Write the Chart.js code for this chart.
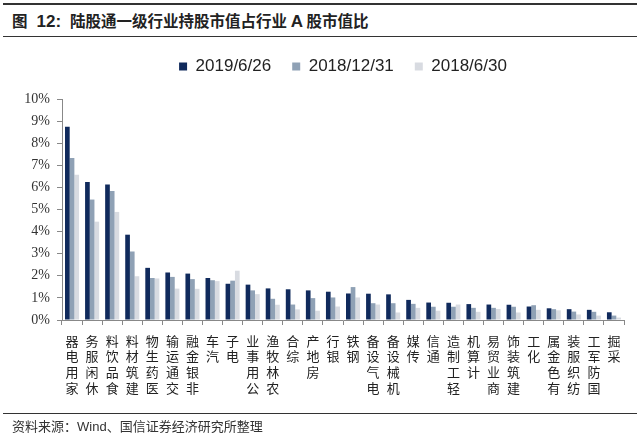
<!DOCTYPE html>
<html><head><meta charset="utf-8">
<script src="https://cdn.jsdelivr.net/npm/chart.js@4/dist/chart.umd.min.js"></script>
<style>
html,body{margin:0;padding:0;background:#fff;}
#wrap{position:relative;width:640px;height:435px;overflow:hidden;background:#fff;}
#title{position:absolute;left:12px;top:10px;font-family:"Noto Sans CJK SC";font-weight:bold;font-size:15.5px;color:#222;white-space:nowrap;line-height:20px;}
#title .n{font-family:"Liberation Sans";font-weight:bold;font-size:17px;margin:0 9px 0 9px;}
#title .a{font-family:"Liberation Sans";font-weight:bold;font-size:17px;}
.line{position:absolute;left:3px;width:634px;background:#333;}
#footer{position:absolute;left:12px;top:418px;font-family:"Noto Sans CJK SC";font-size:13px;color:#333;line-height:16px;white-space:nowrap;}
#footer .n{font-family:"Liberation Sans";}
canvas{position:absolute;left:0;top:0;}
</style></head>
<body>
<div id="wrap">
  <div class="line" style="top:3px;height:2px;"></div>
  <div id="title">图<span class="n">12:</span>陆股通一级行业持股市值占行业 <span class="a">A</span> 股市值比</div>
  <div class="line" style="top:36px;height:1px;"></div>
  <canvas id="c" width="640" height="435"></canvas>
  <div class="line" style="top:413px;height:1px;"></div>
  <div id="footer">资料来源：<span class="n">Wind</span>、国信证券经济研究所整理</div>
</div>
<script>
const categories = ['家用电器','休闲服务','食品饮料','建筑材料','医药生物','交通运输','非银金融','汽车','电子','公用事业','农林牧渔','综合','房地产','银行','钢铁','电气设备','机械设备','传媒','通信','轻工制造','计算机','商业贸易','建筑装饰','化工','有色金属','纺织服装','国防军工','采掘'];
const seriesNames = ['2019/6/26','2018/12/31','2018/6/30'];
const s20190626 = [8.75,6.25,6.13,3.86,2.36,2.15,2.10,1.90,1.64,1.60,1.43,1.39,1.34,1.28,1.20,1.19,1.16,0.91,0.79,0.78,0.72,0.70,0.69,0.61,0.53,0.49,0.46,0.35];
const s20181231 = [7.33,5.45,5.84,3.10,1.90,1.95,1.85,1.80,1.78,1.34,0.96,0.70,0.99,1.02,1.49,0.76,0.76,0.73,0.60,0.60,0.55,0.55,0.60,0.67,0.49,0.38,0.37,0.20];
const s20180630 = [6.57,4.45,4.89,1.98,1.88,1.42,1.41,1.76,2.23,1.17,0.69,0.48,0.42,0.61,1.02,0.70,0.34,0.55,0.42,0.70,0.37,0.50,0.34,0.46,0.44,0.25,0.20,0.11];
const yTicks = [0,1,2,3,4,5,6,7,8,9,10];
const colors = ['#102a5c','#8fa1b5','#d8dbe1'];

const labels = categories.map(c => Array.from(c).reverse());

new Chart(document.getElementById('c'), {
  type: 'bar',
  data: {
    labels: labels,
    datasets: [s20190626, s20181231, s20180630].map((d, i) => ({
      label: seriesNames[i],
      data: d,
      backgroundColor: colors[i],
      borderWidth: 0,
      categoryPercentage: 0.7,
      barPercentage: 1.0
    }))
  },
  options: {
    responsive: false,
    animation: false,
    layout: { padding: { top: 37, right: 16, bottom: 40, left: 0 } },
    plugins: {
      legend: {
        position: 'top',
        fullSize: false,
        labels: {
          boxWidth: 8, boxHeight: 8, padding: 21,
          color: '#222',
          font: { family: 'Liberation Sans', size: 17 }
        }
      },
      tooltip: { enabled: false }
    },
    scales: {
      x: {
        grid: { display: true, drawOnChartArea: false, offset: true, tickLength: 5, color: '#888' },
        border: { color: '#888', width: 1 },
        ticks: {
          autoSkip: false, maxRotation: 0, minRotation: 0, padding: 8,
          color: '#222',
          font: { family: 'Noto Sans CJK SC', size: 13, lineHeight: 1.2 }
        },
        afterFit: s => { s.height = 75; }
      },
      spacer: {
        type: 'linear', position: 'top', display: true,
        grid: { display: false }, border: { display: false },
        ticks: { display: false },
        afterFit: s => { s.height = 14; }
      },
      y: {
        min: 0, max: 10,
        grid: { display: true, drawOnChartArea: false, tickLength: 5, color: '#888' },
        border: { color: '#888', width: 1 },
        afterBuildTicks: s => { s.ticks = yTicks.map(v => ({ value: v })); },
        ticks: {
          padding: 7, color: '#333',
          font: { family: 'Liberation Serif', size: 14 },
          callback: v => v + '%'
        },
        afterFit: s => { s.width = 62; }
      }
    }
  }
});
</script>
</body></html>
